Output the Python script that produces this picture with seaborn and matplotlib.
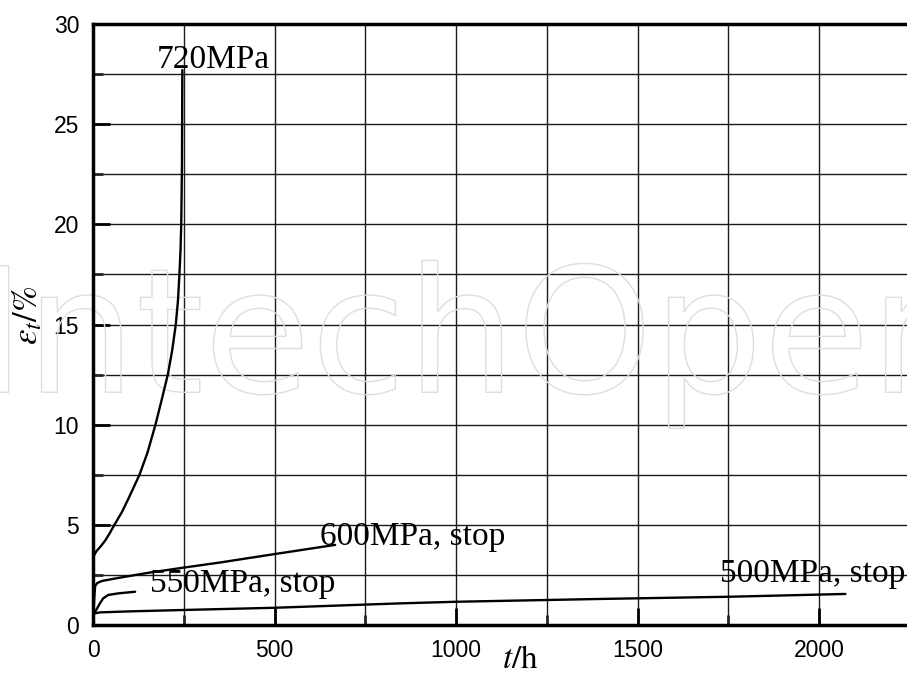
import numpy as np
import pandas as pd
import matplotlib
matplotlib.use("Agg")
import matplotlib.pyplot as plt
import matplotlib.patheffects as pe
from matplotlib.ticker import MultipleLocator
import seaborn as sns

# Creep curves: time t (h) against total strain eps_t (%) at each stress level
t_720 = [0, 2, 10, 20, 33, 45, 59, 80, 100, 128, 150, 172, 190, 206, 218,
         228, 234, 238, 241, 243, 245, 246]
e_720 = [3.2, 3.45, 3.7, 3.9, 4.2, 4.55, 5.0, 5.65, 6.4, 7.5, 8.6, 10.0, 11.3,
         12.5, 13.7, 15.0, 16.2, 17.5, 18.7, 20.0, 23.0, 27.7]

t_600 = [0, 2, 4, 6, 12, 25, 70, 150, 244, 350, 432, 500, 580, 667]
e_600 = [0.4, 0.9, 1.5, 1.95, 2.1, 2.2, 2.35, 2.6, 2.85, 3.12, 3.35, 3.54, 3.76, 4.0]

t_550 = [0, 4, 12, 19, 28, 42, 70, 116]
e_550 = [0.4, 0.6, 0.85, 1.08, 1.33, 1.5, 1.58, 1.66]

t_500 = [0, 3, 20, 100, 250, 500, 846, 1000, 1397, 1752, 2072]
e_500 = [0.4, 0.58, 0.63, 0.68, 0.75, 0.86, 1.08, 1.16, 1.3, 1.41, 1.55]

curve_names = ["720MPa", "600MPa, stop", "550MPa, stop", "500MPa, stop"]
label_t = [176, 625, 157, 1727]
label_e = [27.8, 4.0, 1.66, 2.16]

sns.set_theme(style="white")
plt.rcParams["font.family"] = ["Liberation Sans", "DejaVu Sans"]
plt.rcParams["mathtext.fontset"] = "stix"

df = pd.concat([
    pd.DataFrame({"t": t, "eps": e, "stress": name})
    for name, t, e in zip(curve_names,
                          [t_720, t_600, t_550, t_500],
                          [e_720, e_600, e_550, e_500])
], ignore_index=True)

fig = plt.figure(figsize=(9.07, 6.74), dpi=100)
ax = fig.add_axes([93 / 907, 49 / 674, 817 / 907, 601 / 674])

sns.lineplot(data=df, x="t", y="eps", units="stress", estimator=None,
             sort=False, color="black", lw=1.7, ax=ax, zorder=4)

ax.set_xlim(0, 2250)
ax.set_ylim(0, 30)
ax.xaxis.set_major_locator(MultipleLocator(500))
ax.xaxis.set_minor_locator(MultipleLocator(250))
ax.yaxis.set_major_locator(MultipleLocator(5))
ax.yaxis.set_minor_locator(MultipleLocator(2.5))
ax.grid(which="both", color="#1a1a1a", lw=1.0)
ax.set_axisbelow(True)

ax.tick_params(which="major", direction="in", length=12, width=2,
               labelsize=16.5, pad=10, color="black", labelcolor="black",
               bottom=True, left=True)
ax.tick_params(which="minor", direction="in", length=7, width=2,
               bottom=True, left=True)

for side in ["left", "bottom", "top"]:
    ax.spines[side].set_visible(True)
    ax.spines[side].set_color("black")
    ax.spines[side].set_linewidth(2.5)
ax.spines["right"].set_visible(False)

ax.set_xlabel("")
ax.set_ylabel("")

# curve labels
for name, xt, ye in zip(curve_names, label_t, label_e):
    ax.text(xt, ye, name, family="Liberation Serif", fontsize=24,
            ha="left", va="baseline", color="black", zorder=5, clip_on=False)

# axis titles
ax.text(0.5226, -0.057, r"$t/\mathrm{h}$", transform=ax.transAxes,
        fontsize=24, ha="center", va="center", color="black")
ax.text(-0.081, 0.516, r"$\varepsilon_t/\%$", transform=ax.transAxes,
        fontsize=25, ha="center", va="center", rotation=90, color="black")

# faint publisher mark across the plot
ax.text(-0.028, 0.418, "IntechOpen", transform=fig.transFigure,
        fontsize=125, family="DejaVu Sans", color="none", zorder=1,
        ha="left", va="baseline", clip_on=False,
        path_effects=[pe.Stroke(linewidth=1.0, foreground="#dedede"), pe.Normal()])

fig.savefig("out.png", dpi=100)
